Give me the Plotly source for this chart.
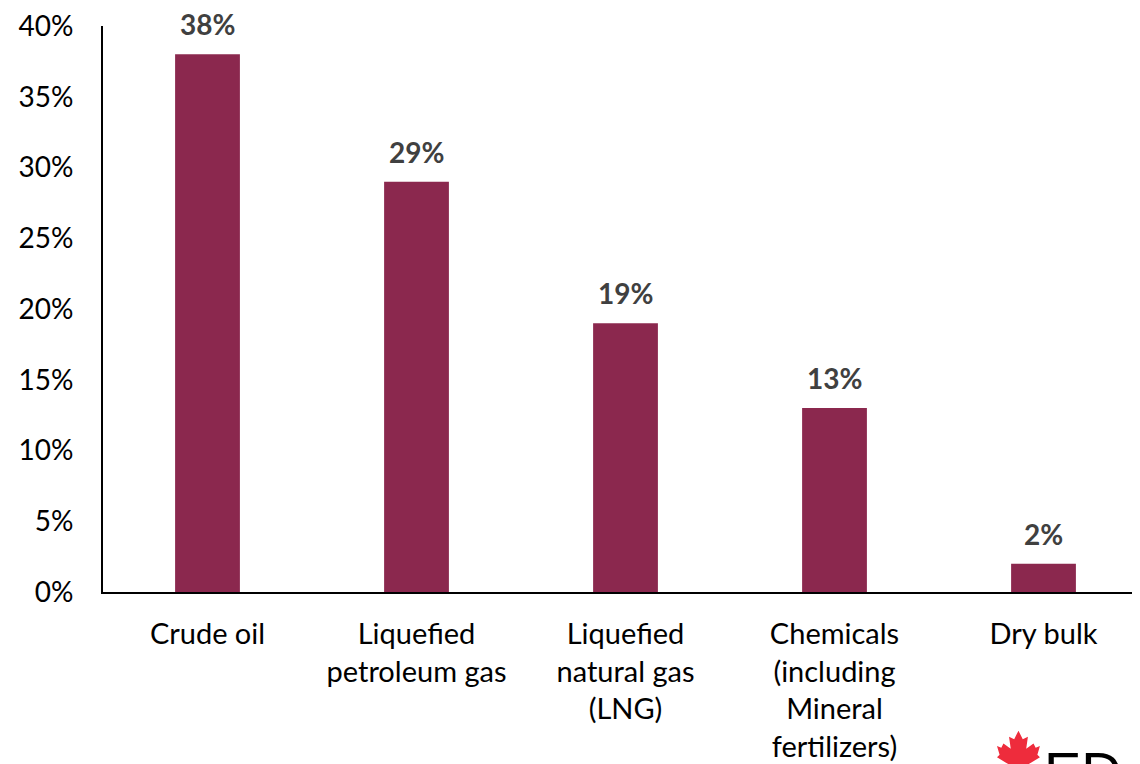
import base64
import plotly.graph_objects as go

categories = ["Crude oil", "Liquefied<br>petroleum gas", "Liquefied<br>natural gas<br>(LNG)",
              "Chemicals<br>(including<br>Mineral<br>fertilizers)", "Dry bulk"]
values = [38, 29, 19, 13, 2]
value_labels = ["38%", "29%", "19%", "13%", "2%"]
y_ticks = [0, 5, 10, 15, 20, 25, 30, 35, 40]
y_tick_labels = ["0%", "5%", "10%", "15%", "20%", "25%", "30%", "35%", "40%"]

BAR = "#8B284E"
FONT = "Lato, Carlito, 'Open Sans', sans-serif"

fig = go.Figure()
fig.add_trace(go.Bar(x=list(range(len(categories))), y=values, marker_color=BAR,
                     marker_line_width=0, width=0.31, hoverinfo="skip"))

for i, (v, lab) in enumerate(zip(values, value_labels)):
    fig.add_annotation(x=i, y=v, text="<b>%s</b>" % lab, showarrow=False,
                       yanchor="bottom", yshift=12, borderpad=0,
                       font=dict(family=FONT, size=28, color="#404040"))

leaf = ('<svg xmlns="http://www.w3.org/2000/svg" viewBox="0 0 100 100">'
        '<path fill="#EE2C3C" d="M50,0 L60,20 L72,14 L68,42 L85,30 L90,40 L100,36 L94,56 '
        'L100,62 L74,78 L78,88 L54,84 L54,100 L46,100 L46,84 L22,88 L26,78 L0,62 L6,56 '
        'L0,36 L10,40 L15,30 L32,42 L28,14 L40,20 Z"/></svg>')
src = "data:image/svg+xml;base64," + base64.b64encode(leaf.encode()).decode()
fig.add_layout_image(source=src, xref="paper", yref="paper", x=0.8555, y=-0.245,
                     sizex=0.0411, sizey=0.0757, xanchor="left", yanchor="top",
                     sizing="stretch", layer="above")
fig.add_annotation(xref="paper", yref="paper", x=0.899, y=-0.258, text="ED",
                   showarrow=False, xanchor="left", yanchor="top",
                   font=dict(family="Liberation Sans", size=56, color="#000000"))

fig.update_layout(
    width=1140, height=764,
    margin=dict(l=95, r=0, t=16, b=180),
    plot_bgcolor="white", paper_bgcolor="white",
    showlegend=False,
    font=dict(family=FONT, size=28, color="#000000"),
    xaxis=dict(range=[-0.5, 4.5], tickmode="array", tickvals=list(range(len(categories))),
               ticktext=categories, showgrid=False, zeroline=False, showline=True,
               linecolor="#000000", linewidth=2, ticks="", ticklabelstandoff=15,
               ticklabeloverflow="allow",
               tickfont=dict(family=FONT, size=29, color="#000000"), fixedrange=True),
    yaxis=dict(range=[0, 40], tickmode="array", tickvals=y_ticks, ticktext=y_tick_labels,
               showgrid=False, zeroline=False, showline=True, linecolor="#000000",
               linewidth=2, ticks="", ticklabelstandoff=22, ticklabeloverflow="allow",
               tickfont=dict(family=FONT, size=28, color="#000000"), fixedrange=True),
)

fig.write_html("out.html")
